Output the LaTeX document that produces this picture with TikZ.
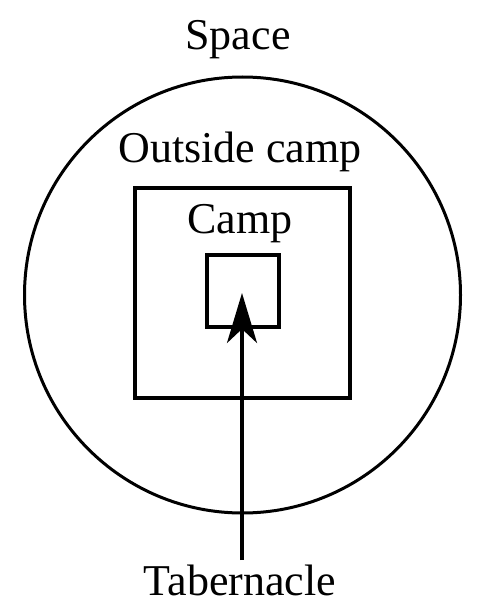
\documentclass[tikz,border=0pt]{standalone}
\usepackage{fontspec}
\setmainfont{Liberation Serif}
\usetikzlibrary{arrows.meta}
\begin{document}
\begin{tikzpicture}[x=1pt,y=-1pt,
  lbl/.style={font=\fontsize{44}{50}\selectfont, anchor=base, inner sep=0pt},
  ring/.style={draw, circle, line width=3pt, minimum size=436pt, inner sep=0pt},
  boxa/.style={draw, rectangle, line width=3.5pt, inner sep=0pt}]
\useasboundingbox (0,0) rectangle (476,604);
\node[ring] (space) at (242.5,295) {};
\node[boxa, minimum width=215pt, minimum height=210pt] (camp) at (242.5,293) {};
\node[boxa, minimum width=72pt, minimum height=72pt] (tab) at (243,291) {};
\node[lbl] (tspace) at (238,50) {Space};
\node[lbl] (toutside) at (240,162) {Outside camp};
\node[lbl] (tcamp) at (240,233) {Camp};
\node[lbl] (ttab) at (240,595) {Tabernacle};
\coordinate (tail) at (242,560);
\coordinate (tip) at (242,293);
\draw[line width=3.5pt, -{Stealth[length=50pt,width=30pt,inset=14pt]}] (tail) -- (tip);
\end{tikzpicture}
\end{document}
